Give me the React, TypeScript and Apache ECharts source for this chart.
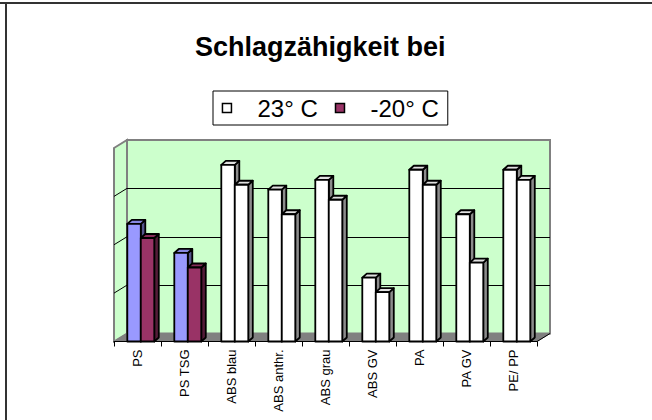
import React, { useEffect, useRef } from "react";
import * as echarts from "echarts";

const categories = ["PS", "PS TSG", "ABS blau", "ABS anthr.", "ABS grau", "ABS GV", "PA", "PA GV", "PE/ PP"];
const seriesNames = ["23° C", "-20° C"];
const values23 = [2.43, 1.83, 3.65, 3.14, 3.34, 1.32, 3.55, 2.63, 3.55];
const valuesMinus20 = [2.14, 1.53, 3.24, 2.63, 2.93, 1.02, 3.24, 1.63, 3.34];
const colors23 = ["#9999FF", "#9999FF", "#FFFFFF", "#FFFFFF", "#FFFFFF", "#FFFFFF", "#FFFFFF", "#FFFFFF", "#FFFFFF"];
const colorsMinus20 = ["#993366", "#993366", "#FFFFFF", "#FFFFFF", "#FFFFFF", "#FFFFFF", "#FFFFFF", "#FFFFFF", "#FFFFFF"];
const yTicks = [0, 1, 2, 3, 4];

const FONT = "'Liberation Sans', Arial, sans-serif";
// layout of the front plane and the 3D depth offset
const GL = 114, GT = 148, GW = 423, GH = 193.5;
const DX = 13, DY = -8;

function shade(hex: string, f: number) {
  const n = parseInt(hex.slice(1), 16);
  const r = Math.round(((n >> 16) & 255) * f);
  const g = Math.round(((n >> 8) & 255) * f);
  const b = Math.round((n & 255) * f);
  return `rgb(${r},${g},${b})`;
}

function makeRender(seriesIdx: number, colors: string[]) {
  return (params: any, api: any) => {
    const i = api.value(0);
    const v = api.value(1);
    const top = api.coord([i, v]);
    const base = api.coord([i, 0]);
    const bw = api.size([1, 0])[0];
    const w = bw * 0.287;
    const x0 = top[0] - bw * 0.217 + seriesIdx * w;
    const yt = top[1];
    const yb = base[1];
    const dx = 4.5, dy = -4;
    const c = colors[params.dataIndex];
    const st = { stroke: "#000", lineWidth: 1.8, lineJoin: "round" };
    return {
      type: "group",
      children: [
        { type: "polygon", shape: { points: [[x0 + w, yt], [x0 + w + dx, yt + dy], [x0 + w + dx, yb + dy], [x0 + w, yb]] }, style: { ...st, fill: shade(c, 0.55) } },
        { type: "polygon", shape: { points: [[x0, yt], [x0 + dx, yt + dy], [x0 + w + dx, yt + dy], [x0 + w, yt]] }, style: { ...st, fill: shade(c, 0.88) } },
        { type: "rect", shape: { x: x0, y: yt, width: w, height: yb - yt }, style: { ...st, fill: c } },
      ],
    };
  };
}

export default function App() {
  const ref = useRef<HTMLDivElement>(null);
  useEffect(() => {
    const chart = echarts.init(ref.current!, null, { renderer: "svg" });
    const yMax = yTicks[yTicks.length - 1];
    const unit = GH / yMax;
    const sideGrid = yTicks.slice(1, -1).map((t) => ({
      type: "line",
      z: 1,
      shape: { x1: GL, y1: GT + GH - t * unit, x2: GL + DX, y2: GT + GH - t * unit + DY },
      style: { stroke: "#000", lineWidth: 1 },
    }));
    const option: any = {
      animation: false,
      backgroundColor: "#FFFFFF",
      textStyle: { fontFamily: FONT },
      title: {
        text: "Schlagzähigkeit bei",
        left: 195,
        top: 33,
        padding: 0,
        textStyle: { fontFamily: FONT, fontSize: 27, fontWeight: "bold", color: "#000" },
      },
      legend: {
        left: 213,
        top: 91,
        padding: [5, 9, 5, 8.7],
        itemGap: 17,
        itemWidth: 9,
        itemHeight: 9,
        icon: "rect",
        borderColor: "#000",
        borderWidth: 1,
        backgroundColor: "#FFFFFF",
        formatter: (name: string) => "{s|}{t|" + name + "}",
        textStyle: {
          fontFamily: FONT,
          fontSize: 24,
          color: "#000",
          rich: {
            s: { width: 21 },
            t: { fontFamily: FONT, fontSize: 24, color: "#000", lineHeight: 28 },
          },
        },
        data: [
          { name: seriesNames[0], itemStyle: { color: "#FFFFFF", borderColor: "#000", borderWidth: 1.5 } },
          { name: seriesNames[1], itemStyle: { color: "#993366", borderColor: "#000", borderWidth: 1.5 } },
        ],
      },
      grid: [
        { left: GL, top: GT, width: GW, height: GH, show: false },
        {
          left: GL + DX, top: GT + DY, width: GW, height: GH, show: true,
          backgroundColor: "#CCFFCC", borderColor: "#808080", borderWidth: 2,
        },
      ],
      xAxis: [
        {
          type: "category", gridIndex: 0, data: categories,
          axisLine: { lineStyle: { color: "#000", width: 1 } },
          axisTick: { show: true, length: 5, lineStyle: { color: "#000" } },
          axisLabel: { rotate: 90, interval: 0, margin: 8, fontSize: 13, color: "#000", fontFamily: FONT },
          z: 5,
        },
        { type: "category", gridIndex: 1, data: categories, show: false },
      ],
      yAxis: [
        { type: "value", gridIndex: 0, min: 0, max: yMax, interval: 1, show: false },
        {
          type: "value", gridIndex: 1, min: 0, max: yMax, interval: 1,
          axisLine: { show: false }, axisTick: { show: false }, axisLabel: { show: false },
          splitLine: { show: true, showMinLine: false, showMaxLine: false, lineStyle: { color: "#000", width: 1 } },
        },
      ],
      graphic: [
        // outer frame
        { type: "line", shape: { x1: 0, y1: 3, x2: 652, y2: 3 }, style: { stroke: "#333", lineWidth: 2 } },
        { type: "line", shape: { x1: 6, y1: 2, x2: 6, y2: 420 }, style: { stroke: "#333", lineWidth: 2 } },
        // left wall
        {
          type: "polygon", z: 0,
          shape: { points: [[GL, GT], [GL + DX, GT + DY], [GL + DX, GT + GH + DY], [GL, GT + GH]] },
          style: { fill: "#CCFFCC", stroke: "#808080", lineWidth: 2 },
        },
        // floor
        {
          type: "polygon", z: 0,
          shape: { points: [[GL, GT + GH], [GL + DX, GT + GH + DY], [GL + GW + DX, GT + GH + DY], [GL + GW, GT + GH]] },
          style: { fill: "#808080", stroke: "#808080", lineWidth: 1 },
        },
        {
          type: "line", z: 1,
          shape: { x1: GL + GW, y1: GT + GH, x2: GL + GW + DX, y2: GT + GH + DY },
          style: { stroke: "#000", lineWidth: 1 },
        },
        ...sideGrid,
      ],
      series: [
        {
          name: seriesNames[0], type: "custom", xAxisIndex: 0, yAxisIndex: 0, z: 3,
          itemStyle: { color: "#FFFFFF", borderColor: "#000" },
          renderItem: makeRender(0, colors23),
          data: values23.map((v, i) => [i, v]),
        },
        {
          name: seriesNames[1], type: "custom", xAxisIndex: 0, yAxisIndex: 0, z: 4,
          itemStyle: { color: "#993366", borderColor: "#000" },
          renderItem: makeRender(1, colorsMinus20),
          data: valuesMinus20.map((v, i) => [i, v]),
        },
      ],
    };
    chart.setOption(option);
    return () => chart.dispose();
  }, []);
  return (
    <div
      ref={ref}
      style={{ position: "fixed", left: 0, top: 0, width: 652, height: 420 }}
    />
  );
}
